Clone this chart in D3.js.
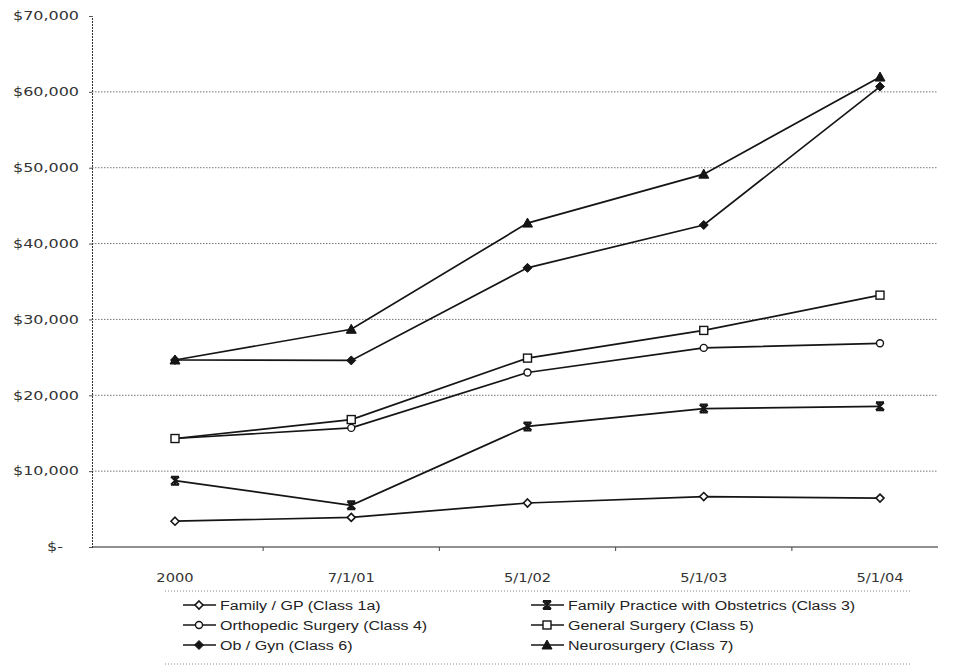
<!DOCTYPE html>
<html>
<head>
<meta charset="utf-8">
<script src="https://cdn.jsdelivr.net/npm/d3@7"></script>
<style>
  html, body { margin: 0; padding: 0; background: #fff; }
  svg { display: block; }
</style>
</head>
<body>
<svg id="chart" width="960" height="667"></svg>
<script>
// ---- data ----
const categories = ["2000", "7/1/01", "5/1/02", "5/1/03", "5/1/04"];
const seriesNames = [
  "Family / GP (Class 1a)",
  "Family Practice with Obstetrics (Class 3)",
  "Orthopedic Surgery (Class 4)",
  "General Surgery (Class 5)",
  "Ob / Gyn (Class 6)",
  "Neurosurgery (Class 7)"
];
const familyGP      = [3400, 3900, 5800, 6650, 6450];
const familyObst    = [8750, 5500, 15900, 18250, 18550];
const orthopedic    = [14300, 15700, 23000, 26250, 26850];
const generalSurg   = [14300, 16800, 24900, 28550, 33200];
const obGyn         = [24650, 24600, 36800, 42450, 60700];
const neurosurgery  = [24650, 28700, 42700, 49150, 61950];
const yTicks = [0, 10000, 20000, 30000, 40000, 50000, 60000, 70000];
const yTickLabels = ["$-", "$10,000", "$20,000", "$30,000", "$40,000", "$50,000", "$60,000", "$70,000"];
const markerTypes = ["diamondOpen", "star", "circleOpen", "squareOpen", "diamondFilled", "triangleFilled"];

const seriesValues = [familyGP, familyObst, orthopedic, generalSurg, obGyn, neurosurgery];

// ---- layout ----
const svg = d3.select("#chart");
const plotLeft = 92, plotRight = 938, plotTop = 16, plotBottom = 547;

const x = d3.scalePoint().domain(categories).range([175, 880]);
const y = d3.scaleLinear().domain([0, 70000]).range([plotBottom, plotTop]);

const ink = "#151515";

// horizontally widen text (the scanned original has wide lettering)
function widen(sel, s) {
  sel.each(function () {
    const L = this.getComputedTextLength();
    this.setAttribute("textLength", (L * s).toFixed(2));
    this.setAttribute("lengthAdjust", "spacingAndGlyphs");
  });
}

// gridlines (dotted)
svg.append("g").selectAll("line")
  .data(yTicks.filter(v => v > 0 && v < 70000))
  .join("line")
  .attr("x1", plotLeft).attr("x2", plotRight)
  .attr("y1", d => y(d)).attr("y2", d => y(d))
  .attr("stroke", "#777").attr("stroke-width", 1)
  .attr("stroke-dasharray", "1.5,1.5");

// y axis
const yAxis = d3.axisLeft(y).tickValues(yTicks)
  .tickFormat((d, i) => yTickLabels[i]).tickSize(3).tickPadding(10);
const gy = svg.append("g").attr("transform", `translate(${plotLeft},0)`).call(yAxis);
gy.select(".domain").attr("stroke", "#333").attr("stroke-dasharray", "2,1");
gy.selectAll(".tick line").attr("stroke", "#555");
gy.selectAll(".tick text")
  .attr("font-family", "'DejaVu Sans', Verdana, sans-serif")
  .attr("font-size", 12).attr("fill", "#333");
gy.selectAll(".tick text").filter(d => d === 0).attr("dx", -16);
widen(gy.selectAll(".tick text"), 1.33);

// x axis line (solid)
svg.append("line")
  .attr("x1", plotLeft).attr("x2", plotRight)
  .attr("y1", plotBottom).attr("y2", plotBottom)
  .attr("stroke", "#222").attr("stroke-width", 1.2);

// x axis ticks at category boundaries
const step = x.step();
const boundaries = categories.slice(0, -1).map(c => x(c) + step / 2);
svg.append("g").selectAll("line").data(boundaries).join("line")
  .attr("x1", d => d).attr("x2", d => d)
  .attr("y1", plotBottom).attr("y2", plotBottom + 4)
  .attr("stroke", "#444");

// x labels
const xl = svg.append("g").selectAll("text").data(categories).join("text")
  .attr("x", d => x(d)).attr("y", 582)
  .attr("text-anchor", "middle")
  .attr("font-family", "'DejaVu Sans', Verdana, sans-serif")
  .attr("font-size", 12).attr("fill", "#333")
  .text(d => d);
widen(xl, 1.22);

// marker drawing
function drawMarker(g, type) {
  switch (type) {
    case "diamondOpen":
      g.append("path").attr("d", "M0,-4L4,0L0,4L-4,0Z")
        .attr("fill", "#fff").attr("stroke", ink).attr("stroke-width", 1.6); break;
    case "star":
      g.append("path").attr("d", "M-4,-4L4,4M-4,4L4,-4M0,-4.5L0,4.5M-4,-4L4,-4M-4,4L4,4")
        .attr("fill", "none").attr("stroke", ink).attr("stroke-width", 2); break;
    case "circleOpen":
      g.append("circle").attr("r", 3.5)
        .attr("fill", "#fff").attr("stroke", ink).attr("stroke-width", 1.4); break;
    case "squareOpen":
      g.append("rect").attr("x", -4).attr("y", -4).attr("width", 8).attr("height", 8)
        .attr("fill", "#fff").attr("stroke", ink).attr("stroke-width", 1.4); break;
    case "diamondFilled":
      g.append("path").attr("d", "M0,-4.5L4.5,0L0,4.5L-4.5,0Z")
        .attr("fill", ink).attr("stroke", ink).attr("stroke-width", 1); break;
    case "triangleFilled":
      g.append("path").attr("d", "M0,-5L5,4L-5,4Z")
        .attr("fill", ink).attr("stroke", ink).attr("stroke-width", 1); break;
  }
}

const line = d3.line().x((d, i) => x(categories[i])).y(d => y(d));

seriesValues.forEach((vals, si) => {
  const g = svg.append("g");
  g.append("path").datum(vals).attr("d", line)
    .attr("fill", "none").attr("stroke", ink).attr("stroke-width", 1.7);
  vals.forEach((v, i) => {
    const mg = g.append("g").attr("transform", `translate(${x(categories[i])},${y(v)})`);
    drawMarker(mg, markerTypes[si]);
  });
});

// legend
const legendTop = 591, legendBottom = 664, legendL = 165, legendR = 912;
[legendTop, legendBottom].forEach(yy => {
  svg.append("line").attr("x1", legendL).attr("x2", legendR)
    .attr("y1", yy).attr("y2", yy)
    .attr("stroke", "#888").attr("stroke-dasharray", "1,2");
});
const colX = [183, 531];
const rowY = [605, 625, 645];
seriesNames.forEach((name, i) => {
  const cx = colX[i % 2], cy = rowY[Math.floor(i / 2)];
  const g = svg.append("g").attr("transform", `translate(${cx},${cy})`);
  g.append("line").attr("x1", 0).attr("x2", 33).attr("y1", 0).attr("y2", 0)
    .attr("stroke", ink).attr("stroke-width", 1.6);
  const mg = g.append("g").attr("transform", "translate(16,0)");
  drawMarker(mg, markerTypes[i]);
  const t = g.append("text").attr("x", 37).attr("y", 4.5)
    .attr("font-family", "'Liberation Sans', Arial, sans-serif")
    .attr("font-size", 12.5).attr("fill", "#222")
    .text(name);
  widen(t, 1.28);
});
</script>
</body>
</html>
